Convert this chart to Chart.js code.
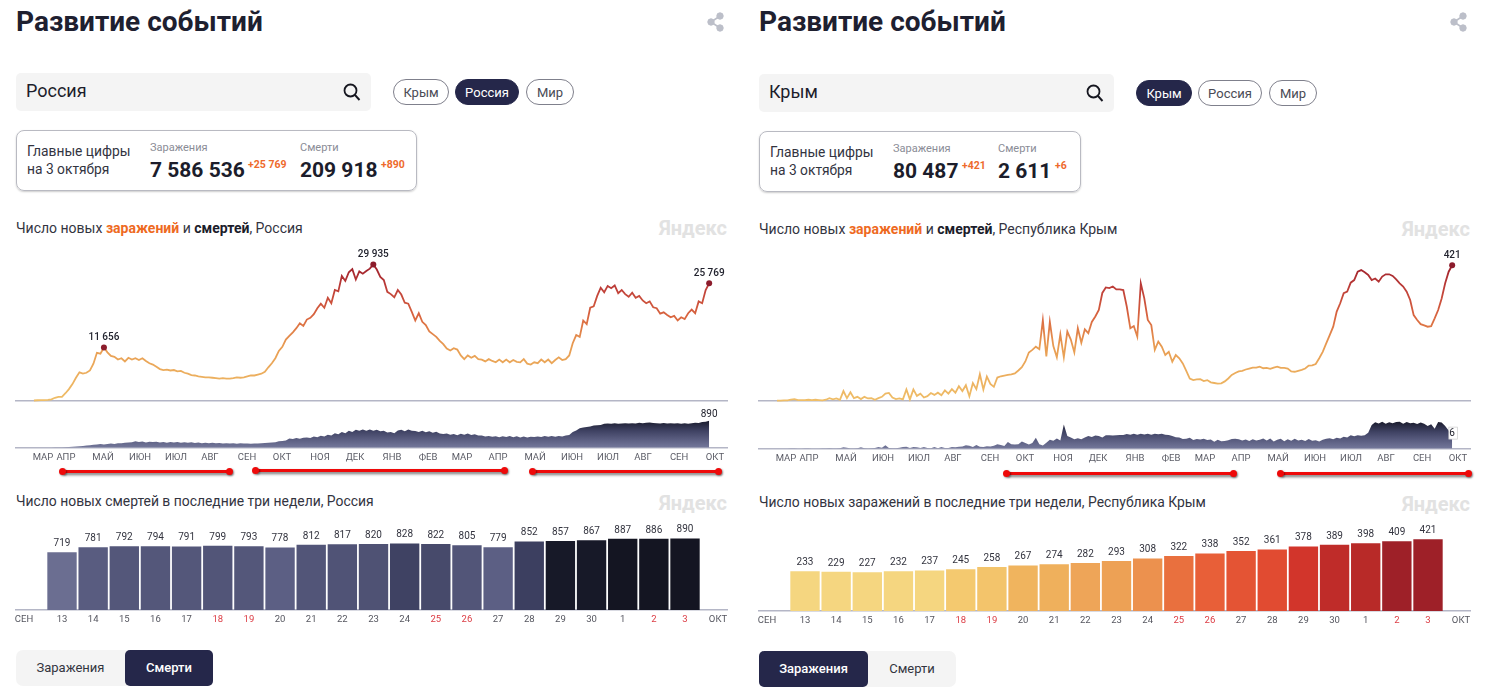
<!DOCTYPE html>
<html lang="ru"><head><meta charset="utf-8">
<script src="https://cdn.jsdelivr.net/npm/chart.js@4"></script>
<style>
html,body{margin:0;padding:0;background:#fff;width:1500px;height:698px;overflow:hidden;font-family:Roboto,sans-serif;color:#1c1d2b}
.a{position:absolute;white-space:nowrap}
canvas{position:absolute}
.title{font-size:28px;font-weight:700;line-height:32px;color:#1e2030}
.search{background:#f4f4f4;border-radius:5px;height:38px;width:355px}
.stext{font-size:18px;line-height:20px;color:#1c1d2b}
.pill{height:26px;line-height:26px;border:1px solid #7f808c;border-radius:14px;text-align:center;font-size:13px;color:#4a4b55;background:#fff}
.pill.on{background:#25274a;border-color:#25274a;color:#fff}
.box{border:1px solid #b9bac2;border-radius:8px;box-shadow:0 1px 2px #ccc;height:60px;box-sizing:border-box}
.lead{font-size:13.8px;line-height:18px;color:#33343f}
.cap{font-size:11px;line-height:13px;color:#8a8c96}
.num{font-size:21px;font-weight:700;line-height:26px;color:#1c1d2b}
.plus{font-size:10.5px;font-weight:700;line-height:12px;color:#ee6a2c}
.sub{font-size:14px;line-height:18px;color:#33343f}
.sub.t2{font-size:13.9px}
.sub b{font-weight:700;color:#1c1d2b}.sub b.o{color:#ee6a1f}
.ya{font-size:20px;font-weight:700;line-height:24px;color:#e2e2e2;text-align:right;width:90px}
.tog{background:#f4f4f4;border-radius:7px;height:36px;width:197px}
.tb{height:36px;line-height:36px;text-align:center;font-size:13px;color:#33343f}
.tb.on{background:#25274a;color:#fff;font-weight:500;border-radius:5px}
.rl{position:absolute;height:3px;background:#ee0a0a;box-shadow:2px 2px 3px rgba(0,0,0,.55)}
.rl:before,.rl:after{content:"";position:absolute;top:-2px;width:7px;height:7px;border-radius:50%;background:#ee0a0a;box-shadow:1px 1px 2px rgba(0,0,0,.45)}
.rl:before{left:-3px}.rl:after{right:-3px}
</style></head><body>
<div id="root"></div>
<script>
const STEP_DAYS = 3;
const monthLabels = ['МАР','АПР','МАЙ','ИЮН','ИЮЛ','АВГ','СЕН','ОКТ','НОЯ','ДЕК','ЯНВ','ФЕВ','МАР','АПР','МАЙ','ИЮН','ИЮЛ','АВГ','СЕН','ОКТ'];
const monthTickDays = [7.7,27.4,59.2,90.9,121.8,150.9,182.7,212.7,245.3,275.3,307,337.9,367,397.9,429.7,461.4,492.3,522.3,553.2,584];

const russiaCasesK = [
0,.05,.1,.1,.15,.25,.6,.8,.8,1.6,
2.5,3.6,5,6.2,5.9,6.1,6.6,8.1,10.5,10.3,
11.656,10.6,9.8,9.6,9,9.3,8.6,9.4,9,9.3,
8.9,9.3,8.7,8.2,7.9,7.4,6.9,6.7,6.8,6.6,
6.7,6.4,6.5,6.1,5.9,5.6,5.5,5.3,5.2,5.1,
5.1,5,4.9,4.8,4.9,4.8,4.8,4.9,5.1,5,
5.1,5.3,5.5,5.5,5.7,5.9,6.3,7.3,8.2,9.3,
10.9,11.8,13.4,14.2,15,15.9,17,16.4,17.8,18.2,
19,20.3,21.3,20.4,22.6,21.4,24.3,24,27.4,26.3,
28.2,28.9,26.6,28.4,27.9,28.5,29,29.935,28.8,27.2,
26.5,23.9,23.4,22.7,24.3,23.3,21.5,21.3,19.5,17.6,
19.2,17.3,16.6,15.2,14.6,14,13.1,12.4,11.4,11,
11.5,11.2,9.9,9.1,9.9,9.4,9.8,9.1,9,8.6,
9.1,8.7,8.4,9,8.4,9,8.4,8.9,8.5,8.4,
9.1,8.1,7.9,8.4,8.2,9,8.4,9,8.2,8.9,
9.5,8.9,9.1,9.9,12.6,14.4,14,17.6,16.8,20.4,
20.7,23,24.8,23.8,25.2,24.7,25.3,23.6,24.3,23.4,
22.8,23.7,22.6,23,22,21.4,21.8,20.5,20.3,19.1,
19.4,18.8,18.3,18.6,17.6,18.3,17.9,19.2,20,19.2,
21.8,21.4,24.3,25.769];

const russiaDeaths = [
0,1,1,1,2,2,3,5,8,12,
20,28,40,50,58,72,82,98,105,125,
108,125,135,125,150,145,165,170,180,215,
190,205,175,195,190,200,175,190,165,190,
170,185,165,180,160,178,155,170,150,165,
148,160,145,155,140,150,135,145,130,145,
135,140,128,140,135,150,155,165,170,180,
210,220,235,300,290,320,295,330,340,320,
370,345,395,370,430,400,480,440,520,480,
560,520,590,560,600,560,600,560,590,540,
560,500,520,480,570,590,540,600,560,550,
520,560,510,540,490,530,470,450,470,430,
450,410,460,430,470,420,440,400,400,370,
390,360,380,345,380,350,385,345,380,340,
370,335,360,350,370,350,390,365,390,360,
390,370,400,420,520,570,640,670,680,700,
730,740,750,790,800,790,810,790,800,810,
800,810,800,820,810,825,830,815,810,800,
815,795,810,800,810,790,805,790,805,820,
815,850,860,890];

const crimeaCases = [
0,0,1,1,3,5,2,2,2,3,
2,3,2,1,3,8,4,7,3,30,
8,26,8,12,5,12,7,8,3,8,
12,22,24,10,5,7,4,35,4,35,
15,22,10,14,24,18,25,17,32,22,
36,25,45,30,48,14,55,36,82,35,
75,52,43,72,76,78,80,82,85,94,
104,122,150,158,168,160,250,138,245,170,
135,206,135,215,190,150,225,180,222,210,
245,262,282,335,352,350,355,346,346,344,
292,225,232,199,365,318,251,235,158,184,
168,142,152,121,142,132,116,93,69,64,
66,67,61,64,57,55,53,54,60,69,
80,86,91,93,97,100,103,103,106,101,
102,99,103,106,102,102,100,91,90,93,
96,100,109,110,114,132,152,178,204,230,
277,303,334,339,367,375,401,406,399,391,
375,380,370,386,393,393,388,377,365,355,
339,313,266,251,238,234,230,232,256,282,
318,365,401,421];

const crimeaDeaths = [
0,0,0,0,.1,.1,0,0,.1,.1,
0,0,0,.1,.1,.2,.1,.1,.2,.6,
.4,.1,.1,.2,.6,.2,.1,.2,.3,.8,
.4,1.5,.3,.2,.2,.4,.8,.9,.3,.7,
.6,.3,.8,.3,.2,.7,.2,.7,.3,.3,
.7,.6,.9,1,1.5,1.3,.7,1.6,.9,.8,
1.1,1,1.3,2,1.6,1.2,3,2,1.9,2,
3.2,2.5,1.9,2.5,4.8,2,1.4,2.6,4,3.5,
4.5,3.6,10.7,5.6,5,4.2,4.6,4.2,5,5.6,
5.2,5.8,5.6,5,5.9,5.9,5.8,5.9,6.1,6,
6.5,6.2,6.6,6.2,6.6,6.3,6.6,6.2,6.6,6.4,
6.6,6.2,6.1,5.6,5.1,5,4.3,4.4,4.8,3.8,
4.3,4.1,4.4,3.8,4.1,3.1,4,3.3,3.4,3.7,
4.3,4.4,4.2,3.6,4.1,3.4,4.2,3.6,4,4.5,
3.6,4.5,3.2,4,4.4,3.3,4.2,3.5,4.4,3.6,
4,3.4,4.3,3.5,3.7,3.2,3.9,4.4,4.6,4.2,
4.8,4.5,5.3,5,5.9,5.5,5.9,5.7,5.9,7,
10.5,11.7,11.1,11.9,11,11.7,11.2,11.8,11.9,11,
11.8,11.2,11.5,10.9,11.6,11,10,10.8,8.8,11.8,
11.6,10,8,6];

const dayLabels = ['13','14','15','16','17','18','19','20','21','22','23','24','25','26','27','28','29','30','1','2','3'];
const weekendDays = ['18','19','25','26','2','3'];
const russiaLast21 = [719,781,792,794,791,799,793,778,812,817,820,828,822,805,779,852,857,867,887,886,890];
const crimeaLast21 = [233,229,227,232,237,245,258,267,274,282,293,308,322,338,352,361,378,389,398,409,421];
const russiaBarColors = ['#6b6e91','#595c80','#54577a','#54577a','#54577a','#525578','#54577a','#5c5f84','#525578','#505376','#4f5274','#3f4263','#474a6b','#525578','#5c5f84','#3c3f60','#171928','#171928','#141522','#141522','#141522'];
const crimeaBarColors = ['#f5d680','#f5d680','#f5d680','#f5d680','#f5d680','#f4c96f','#f3c46b','#f0b45e','#efb05c','#eea558','#eda155','#ec914e','#e9703e','#e85f38','#e45434','#e14b31','#d2352b','#bf2c29','#b82a28','#9e2028','#9e2028'];

const panels = [
 {x0:16, base:{line:400.5,area:447.7,bars:610}, place:'Россия', region:'Россия', active:1,
  pills:[['Крым',393,56],['Россия',455,64],['Мир',526,48]],
  searchTop:73, boxTop:130, boxW:401,
  caps:[['Заражения',150],['Смерти',300]], nums:[['7 586 536',150],['209 918',300]], plus:[['+25 769',248],['+890',381]],
  cases:russiaCasesK, caseMax:35.3, caseScale:1000, peaks:[20,97,193],
  deaths:russiaDeaths, deathMax:1409, bars:russiaLast21, barMax:1250, barColors:russiaBarColors,
  barTitle:'Число новых смертей в последние три недели, Россия', subTop:219, barSubTop:492, togTop:650, togOn:1,
  red:[[62,230,470],[255,505,469],[532,719,470]]},
 {x0:759, base:{line:400.7,area:448.7,bars:611}, place:'Крым', region:'Республика Крым', active:0,
  pills:[['Крым',1136,56],['Россия',1198,64],['Мир',1269,48]],
  searchTop:74, boxTop:131, boxW:322,
  caps:[['Заражения',893],['Смерти',998]], nums:[['80 487',893],['2 611',998]], plus:[['+421',962],['+6',1055]],
  cases:crimeaCases, caseMax:499.6, caseScale:1, peaks:[193],
  deaths:crimeaDeaths, deathMax:19.3, bars:crimeaLast21, barMax:596, barColors:crimeaBarColors,
  barTitle:'Число новых заражений в последние три недели, Республика Крым', subTop:220, barSubTop:493, togTop:651, togOn:0,
  red:[[1006,1234,472],[1280,1469,472]]}
];

Chart.defaults.font.family = 'Roboto, sans-serif';
Chart.defaults.animation = false;
Chart.defaults.responsive = false;
Chart.defaults.plugins.legend.display = false;
Chart.defaults.plugins.tooltip.enabled = false;

const root = document.getElementById('root');
function div(cls, x, y, html, extra){
  const d=document.createElement('div'); d.className='a '+cls; d.style.left=x+'px'; d.style.top=y+'px';
  d.innerHTML=html; if(extra) Object.assign(d.style,extra); root.appendChild(d); return d;
}
function canvas(x,y,w,h){
  const c=document.createElement('canvas'); c.width=w;c.height=h;c.style.left=x+'px';c.style.top=y+'px';c.style.width=w+'px';c.style.height=h+'px'; root.appendChild(c); return c.getContext('2d');
}
const fmt = v => String(Math.round(v)).replace(/\B(?=(\d{3})+$)/g,' ');

const pointLabels = {
  id:'pointLabels',
  afterDatasetsDraw(chart,args,o){
    const ctx=chart.ctx, meta=chart.getDatasetMeta(0), data=chart.data.datasets[0].data;
    ctx.save(); ctx.textAlign='center'; ctx.textBaseline='middle'; ctx.font=o.font; ctx.fillStyle=o.color;
    o.indexes.forEach(i=>{
      const el=meta.data[i], text=o.text(data[i].y);
      if(o.box){ ctx.save(); ctx.fillStyle='#fff'; ctx.strokeStyle='#ccc'; ctx.lineWidth=.7;
        const w=ctx.measureText(text).width+3; ctx.fillRect(el.x-w/2+1,el.y+o.dy-6,w,12); ctx.strokeRect(el.x-w/2+1,el.y+o.dy-6,w,12); ctx.restore(); }
      ctx.fillText(text, el.x+(o.dx||0), el.y+o.dy);
    });
    ctx.restore();
  }
};

function lineGradient(chart){
  const a=chart.chartArea; if(!a) return '#e79a52';
  const g=chart.ctx.createLinearGradient(0,a.bottom,0,a.bottom-136);
  g.addColorStop(0,'#efbe68'); g.addColorStop(.4,'#e89c52'); g.addColorStop(.62,'#d9653f'); g.addColorStop(.82,'#bf3f39'); g.addColorStop(1,'#9d1f2b');
  return g;
}
function areaGradient(chart){
  const a=chart.chartArea; if(!a) return '#5a5d80';
  const g=chart.ctx.createLinearGradient(0,a.bottom-28,0,a.bottom);
  g.addColorStop(0,'#171828'); g.addColorStop(.4,'#3f4263'); g.addColorStop(.7,'#5a5d80'); g.addColorStop(1,'#74789b');
  return g;
}
const DAY_MIN=-15.4, DAY_MAX=594.3;
const series = arr => arr.map((v,i)=>({x:i*STEP_DAYS,y:v}));
const layout = {autoPadding:false,padding:{left:16,right:16,top:0,bottom:0}};

panels.forEach(p=>{
  const x0=p.x0;
  div('title',x0,6,'Развитие событий');
  const sh=document.createElementNS('http://www.w3.org/2000/svg','svg');
  sh.setAttribute('width','18');sh.setAttribute('height','20');sh.setAttribute('viewBox','0 0 18 20');
  sh.style.cssText=`position:absolute;left:${x0+691}px;top:12px`;
  sh.innerHTML='<g fill="#bcbfc9" stroke="#bcbfc9"><line x1="13" y1="4" x2="4" y2="10" stroke-width="1.6"/><line x1="13" y1="16" x2="4" y2="10" stroke-width="1.6"/><circle cx="13" cy="4" r="3.2"/><circle cx="13" cy="16" r="3.2"/><circle cx="4" cy="10" r="3.2"/></g>';
  root.appendChild(sh);
  div('search',x0,p.searchTop,'');
  div('stext',x0+10,p.searchTop+8,p.place);
  const se=document.createElementNS('http://www.w3.org/2000/svg','svg');
  se.setAttribute('width','20');se.setAttribute('height','20');
  se.style.cssText=`position:absolute;left:${x0+326}px;top:${p.searchTop+9}px`;
  se.innerHTML='<circle cx="8.5" cy="8.5" r="6" fill="none" stroke="#15161f" stroke-width="1.8"/><line x1="13" y1="13" x2="17.5" y2="18" stroke="#15161f" stroke-width="1.9"/>';
  root.appendChild(se);
  p.pills.forEach((q,i)=>div('pill'+(i===p.active?' on':''),q[1],p.searchTop+6,q[0],{width:q[2]+'px',boxSizing:'border-box'}));
  div('box',x0,p.boxTop,'',{width:p.boxW+'px',height:'61px'});
  div('lead',x0+11,p.boxTop+12,'Главные цифры<br>на 3 октября');
  p.caps.forEach(c=>div('cap',c[1],p.boxTop+11,c[0]));
  p.nums.forEach(c=>div('num',c[1],p.boxTop+27,c[0]));
  p.plus.forEach(c=>div('plus',c[1],p.boxTop+29,c[0]));
  div('sub',x0,p.subTop,'Число новых <b class="o">заражений</b> и <b>смертей</b>, '+p.region);
  div('ya',x0+621,p.subTop-3,'Яндекс');
  div('sub t2',x0,p.barSubTop,p.barTitle);
  div('ya',x0+621,p.barSubTop-1,'Яндекс');
  div('tog',x0,p.togTop,'');
  const tw=[[0,109,'Заражения'],[109,88,'Смерти']];
  tw.forEach((t,i)=>div('tb'+(i===p.togOn?' on':''),x0+t[0],p.togTop,t[2],{width:t[1]+'px'}));

  // line chart
  new Chart(canvas(x0-16,240,743,163),{
    type:'line',
    data:{datasets:[{data:series(p.cases),borderWidth:1.8,fill:false,tension:0,clip:false,
      borderColor:c=>lineGradient(c.chart),
      pointRadius:c=>p.peaks.includes(c.dataIndex)?3:0,
      pointBackgroundColor:'#8c1c2c',pointBorderWidth:0}]},
    options:{layout,
      scales:{x:{type:'linear',min:DAY_MIN,max:DAY_MAX,bounds:'data',grid:{display:false,drawTicks:false},ticks:{display:false},
          border:{color:'#b4b6c6',width:1.4},afterFit:s=>{s.height=163-(p.base.line-240)}},
        y:{display:false,min:0,max:p.caseMax}},
      plugins:{pointLabels:{indexes:p.peaks,dy:-10,font:'500 10px Roboto, sans-serif',color:'#22232e',text:v=>fmt(v*p.caseScale)}}},
    plugins:[pointLabels]
  });

  // deaths area chart with month axis
  new Chart(canvas(x0-16,405,743,66),{
    type:'line',
    data:{datasets:[{data:series(p.deaths),borderWidth:0,tension:0,fill:'origin',clip:false,pointRadius:0,
      backgroundColor:c=>areaGradient(c.chart)}]},
    options:{layout,
      scales:{x:{type:'linear',min:DAY_MIN,max:DAY_MAX,bounds:'data',grid:{display:false,drawTicks:false},
          border:{color:'#b4b6c6',width:1.4},
          afterBuildTicks:s=>{s.ticks=monthTickDays.map(v=>({value:v}))},
          afterFit:s=>{s.height=66-(p.base.area-405)},
          ticks:{autoSkip:false,maxRotation:0,minRotation:0,padding:4,color:'#5b5c66',font:{size:9.5},
            callback:(v,i)=>monthLabels[i]}},
        y:{display:false,min:0,max:p.deathMax}},
      plugins:{pointLabels:{indexes:[193],dy:p.x0===16?-6.5:-2,box:p.x0!==16,font:'10px Roboto, sans-serif',color:'#22232e',text:v=>fmt(v)}}},
    plugins:[pointLabels]
  });

  // last three weeks bars
  new Chart(canvas(x0-16,510,743,p.base.bars-510+22),{
    type:'bar',
    data:{datasets:[{data:p.bars.map((v,i)=>({x:i,y:v})),backgroundColor:p.barColors,barThickness:28.7,borderWidth:0}]},
    options:{layout,
      scales:{x:{type:'linear',min:-1.4767,max:21.348,bounds:'data',offset:false,grid:{display:false,drawTicks:false},
          border:{color:'#b4b6c6',width:1.6},
          afterBuildTicks:s=>{s.ticks=[-1.22].concat(dayLabels.map((d,i)=>i),[21.06]).map(v=>({value:v}))},
          afterFit:s=>{s.height=22},
          ticks:{autoSkip:false,maxRotation:0,minRotation:0,padding:4,font:{size:9.5},
            color:c=>{const i=c.index-1;return weekendDays.includes(dayLabels[i])?'#dc3c44':'#55565f'},
            callback:(v,i)=>i===0?'СЕН':(i===dayLabels.length+1?'ОКТ':dayLabels[i-1])}},
        y:{display:false,min:0,max:p.barMax}},
      plugins:{pointLabels:{indexes:p.bars.map((v,i)=>i),dy:-9,font:'10px Roboto, sans-serif',color:'#33343f',text:v=>fmt(v)}}},
    plugins:[pointLabels]
  });

  p.red.forEach(r=>{const d=document.createElement('div');d.className='rl';d.style.left=r[0]+'px';d.style.top=r[2]+'px';d.style.width=(r[1]-r[0])+'px';root.appendChild(d);});
});
</script>
</body></html>
